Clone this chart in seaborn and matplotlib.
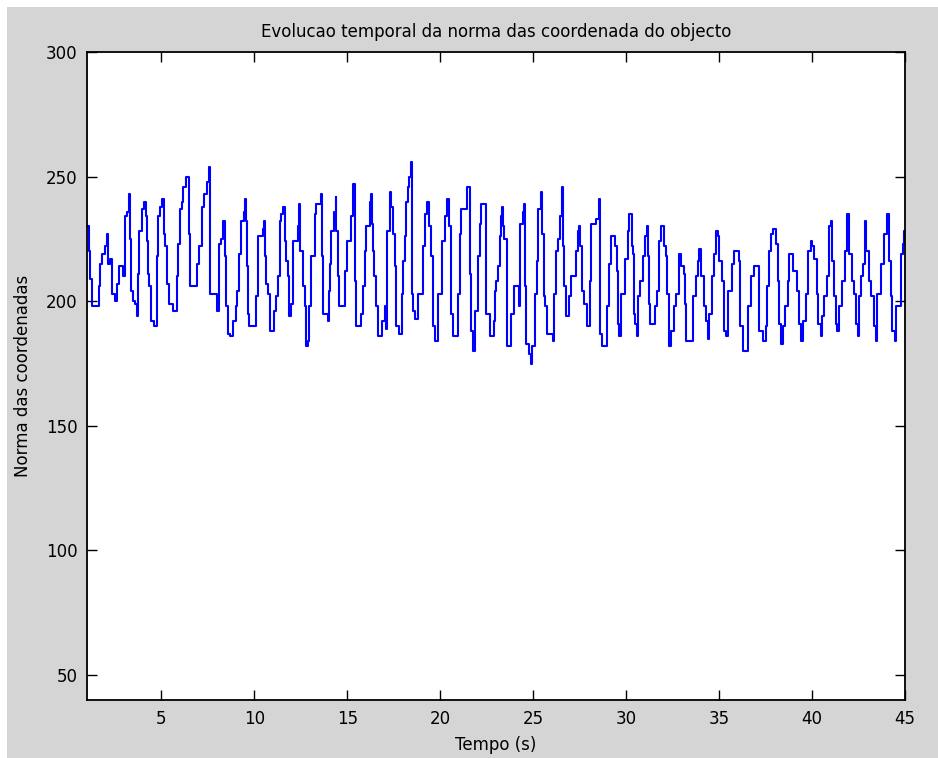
import matplotlib
matplotlib.use("Agg")
import matplotlib.pyplot as plt
import seaborn as sns
import pandas as pd
from matplotlib.patches import Rectangle

# values (start of each held step)
tempo = [
    1.00, 1.10, 1.15, 1.25, 1.62, 1.70, 1.80, 1.95, 2.05, 2.12, 2.25, 2.33, 2.50, 2.62, 2.72, 2.95,
    3.02, 3.15, 3.28, 3.32, 3.38, 3.48, 3.60, 3.70, 3.76, 3.82, 3.95, 4.08, 4.18, 4.22, 4.26, 4.35,
    4.45, 4.58, 4.75, 4.82, 4.95, 5.05, 5.12, 5.20, 5.28, 5.40, 5.60, 5.85, 5.92, 6.00, 6.10, 6.18,
    6.35, 6.50, 6.52, 6.92, 7.05, 7.20, 7.30, 7.45, 7.58, 7.62, 7.98, 8.10, 8.20, 8.30,
    8.42, 8.48, 8.58, 8.70, 8.87, 9.00, 9.08, 9.18, 9.30, 9.42, 9.48, 9.55, 9.60, 9.66, 9.72, 10.08,
    10.18, 10.45, 10.52, 10.57, 10.64, 10.72, 10.82, 11.05, 11.18, 11.28, 11.37, 11.46, 11.54, 11.64,
    11.72, 11.80, 11.88, 11.95, 12.08, 12.35, 12.43, 12.48, 12.62, 12.70, 12.76, 12.90, 12.95, 13.06,
    13.24, 13.34, 13.56, 13.62, 13.70, 13.95, 14.02, 14.06, 14.14, 14.30, 14.38, 14.42, 14.50, 14.58,
    14.90, 15.00, 15.20, 15.30, 15.40, 15.48,
    15.72, 15.84, 15.94, 16.02, 16.22, 16.30, 16.35, 16.40, 16.45, 16.52, 16.66, 16.85, 17.02, 17.08,
    17.15, 17.28, 17.36, 17.46, 17.55, 17.62, 17.78, 17.92, 18.00, 18.10, 18.18, 18.26, 18.34, 18.42,
    18.47, 18.55, 18.62, 18.82, 19.05, 19.20, 19.30, 19.40, 19.48, 19.60, 19.70, 19.88, 20.10, 20.24,
    20.37, 20.46, 20.58, 20.70, 20.95, 21.05, 21.14, 21.45, 21.58, 21.66, 21.75, 21.85, 22.02, 22.12,
    22.18, 22.48, 22.70,
    22.88, 22.96, 23.00, 23.10, 23.20, 23.26, 23.32, 23.38, 23.45, 23.58, 23.82, 23.95, 24.22, 24.27,
    24.44, 24.52, 24.55, 24.62, 24.80, 24.86, 24.92, 25.12, 25.18, 25.25, 25.44, 25.50, 25.58, 25.65,
    25.75, 26.05, 26.10, 26.24, 26.32, 26.42, 26.55, 26.60, 26.68, 26.78, 26.95, 27.05, 27.32, 27.40,
    27.46, 27.50, 27.62, 27.76, 27.92, 28.04, 28.12, 28.38, 28.52, 28.58, 28.70, 28.96, 29.08, 29.20,
    29.42, 29.50, 29.55, 29.64, 29.74, 29.92, 30.10,
    30.18, 30.30, 30.36, 30.42, 30.48, 30.58, 30.66, 30.76, 30.90, 31.02, 31.12, 31.17, 31.24, 31.30,
    31.56, 31.64, 31.78, 31.88, 32.05, 32.14, 32.20, 32.32, 32.42, 32.60, 32.70, 32.86, 32.96, 33.10,
    33.15, 33.22, 33.58, 33.76, 33.88, 33.94, 34.02, 34.18, 34.30, 34.40, 34.48, 34.60, 34.74, 34.84,
    34.95, 35.00, 35.14, 35.28, 35.38, 35.50, 35.72, 35.82, 36.08, 36.14, 36.26, 36.54, 36.72, 36.90,
    37.16, 37.34,
    37.52, 37.56, 37.66, 37.80, 37.88, 38.05, 38.15, 38.20, 38.32, 38.46, 38.56, 38.68, 38.78, 39.00,
    39.20, 39.30, 39.40, 39.54, 39.66, 39.80, 39.94, 40.00, 40.12, 40.24, 40.34, 40.48, 40.56, 40.65,
    40.82, 40.92, 41.00, 41.10, 41.19, 41.28, 41.36, 41.46, 41.60, 41.78, 41.90, 42.00, 42.14, 42.26,
    42.35, 42.45, 42.54, 42.62, 42.72, 42.86, 42.92, 43.06, 43.16, 43.32, 43.42, 43.52, 43.70, 43.88,
    44.05, 44.12, 44.24, 44.32, 44.46, 44.54, 44.78, 44.88, 44.96, 45.00,
]
norma = [
    230, 220, 209, 198, 206, 215, 219, 222, 227, 215, 217, 203, 200, 207, 214, 210,
    234, 236, 243, 225, 204, 200, 199, 194, 211, 228, 237, 240, 234, 224, 211, 206,
    192, 190, 218, 234, 238, 241, 227, 222, 207, 199, 196, 210, 223, 237, 240, 246,
    250, 227, 206, 215, 222, 238, 243, 248, 254, 203, 196, 223, 225, 232,
    218, 198, 187, 186, 192, 198, 204, 219, 232, 236, 241, 232, 214, 195, 190, 202,
    226, 229, 232, 218, 207, 203, 188, 196, 202, 210, 232, 235, 238, 224,
    216, 210, 194, 199, 224, 230, 239, 220, 206, 198, 182, 184, 198, 218,
    235, 239, 243, 218, 195, 192, 204, 215, 228, 236, 242, 228, 210, 198,
    212, 224, 234, 247, 208, 190,
    195, 206, 220, 230, 240, 243, 231, 220, 210, 198, 186, 192, 198, 189,
    228, 244, 238, 227, 214, 190, 187, 203, 216, 226, 240, 246, 250, 256,
    203, 196, 193, 203, 222, 235, 240, 230, 218, 190, 184, 203, 224, 234,
    241, 230, 195, 186, 203, 227, 237, 246, 211, 188, 180, 196, 218, 231,
    239, 195, 186,
    192, 204, 208, 214, 226, 234, 238, 230, 225, 182, 195, 206, 198, 231,
    236, 239, 206, 183, 179, 175, 182, 203, 216, 237, 244, 227, 202, 198,
    187, 184, 203, 220, 225, 234, 246, 222, 206, 194, 202, 210, 220, 228,
    230, 222, 204, 199, 190, 208, 231, 233, 241, 187, 182, 198, 215, 226,
    222, 212, 191, 186, 203, 217, 228,
    235, 222, 219, 195, 191, 186, 202, 208, 218, 226, 230, 218, 199, 191,
    198, 204, 224, 230, 222, 218, 203, 182, 188, 198, 203, 219, 214, 211,
    199, 184, 202, 210, 216, 221, 210, 198, 192, 185, 195, 210, 219, 228,
    226, 216, 208, 188, 186, 204, 215, 220, 216, 190, 180, 198, 210, 214,
    188, 184,
    190, 206, 220, 227, 229, 223, 208, 191, 183, 190, 198, 208, 219, 212,
    204, 191, 184, 192, 203, 220, 224, 222, 217, 203, 191, 186, 194, 202,
    210, 230, 232, 216, 202, 191, 188, 198, 208, 220, 235, 219, 208, 203,
    191, 186, 202, 210, 215, 232, 220, 208, 202, 190, 184, 203, 215, 227,
    235, 216, 202, 188, 184, 198, 219, 223, 228, 228,
]
x_ticks = [5, 10, 15, 20, 25, 30, 35, 40, 45]
y_ticks = [50, 100, 150, 200, 250, 300]

sns.set_style("ticks")
plt.rcParams["font.family"] = ["DejaVu Sans"]
for key in ["text.color", "axes.labelcolor", "xtick.color", "ytick.color"]:
    plt.rcParams[key] = "black"

fig = plt.figure(figsize=(9.38, 7.58), dpi=100, facecolor="white")
# grey figure background with the thin white strip left and top
fig.patches.append(Rectangle((7 / 938, 0), 1 - 7 / 938, 1 - 7 / 758,
                             transform=fig.transFigure, facecolor="#d5d5d5",
                             edgecolor="none", zorder=-1))

ax = fig.add_axes([87 / 938, 1 - 700 / 758, (905 - 87) / 938, (700 - 52) / 758])

df = pd.DataFrame({"tempo": tempo, "norma": norma})
sns.lineplot(data=df, x="tempo", y="norma", ax=ax, color="#0000ff",
             linewidth=1.5, drawstyle="steps-post", estimator=None)

ax.set_xlim(1, 45)
ax.set_ylim(40, 300)
ax.set_xticks(x_ticks)
ax.set_yticks(y_ticks)
ax.tick_params(direction="in", length=7, width=1, top=True, right=True,
               labelsize=12, pad=7)
for s in ax.spines.values():
    s.set_linewidth(1.3)
    s.set_color("black")

ax.set_title("Evolucao temporal da norma das coordenada do objecto", fontsize=12, pad=11)
ax.set_xlabel("Tempo (s)", fontsize=12, labelpad=6)
ax.set_ylabel("Norma das coordenadas", fontsize=12, labelpad=10)

fig.savefig("out.png", dpi=100, facecolor=fig.get_facecolor())
